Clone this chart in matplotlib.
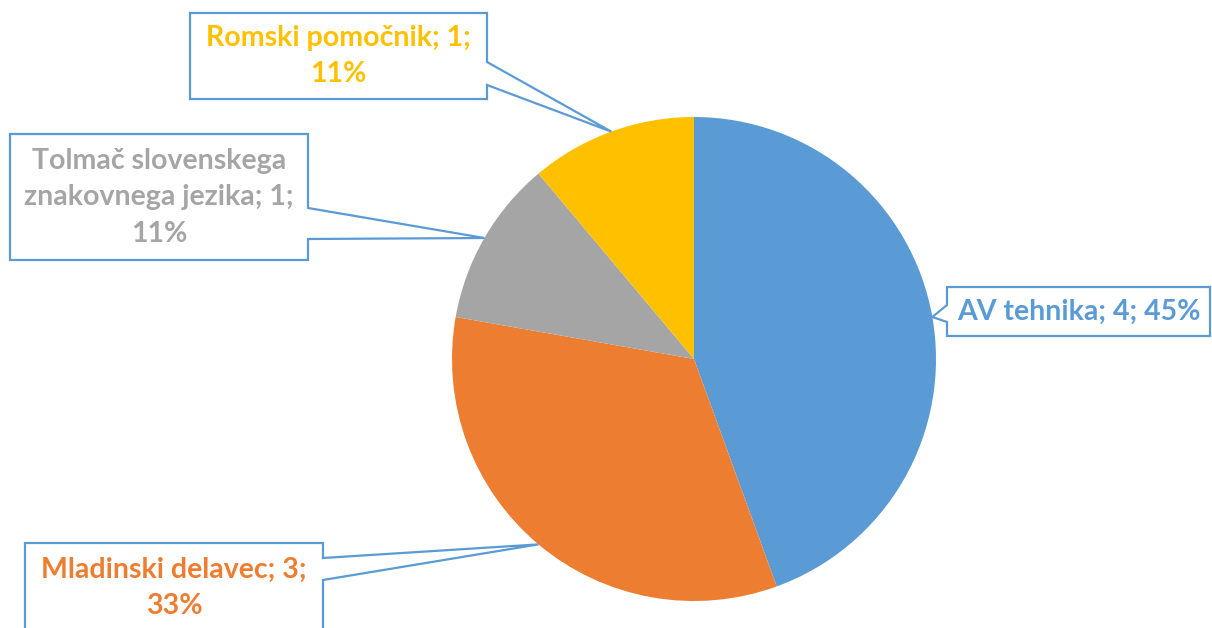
import numpy as np
import matplotlib.pyplot as plt
from matplotlib.patches import Polygon

# data
labels = ['AV tehnika', 'Mladinski delavec', 'Tolmač slovenskega znakovnega jezika', 'Romski pomočnik']
values = [4, 3, 1, 1]
pcts = ['45%', '33%', '11%', '11%']
colors = ['#5B9BD5', '#ED7D31', '#A5A5A5', '#FFC000']

# label texts as shown (with line breaks)
label_texts = [
    'AV tehnika; 4; 45%',
    'Mladinski delavec; 3;\n33%',
    'Tolmač slovenskega\nznakovnega jezika; 1;\n11%',
    'Romski pomočnik; 1;\n11%',
]

W, H = 1212, 628
fig = plt.figure(figsize=(W / 100, H / 100), dpi=100)

# pie axes (center 694,359 px, radius 242 px)
cx, cy, r = 694, 359, 242
ax = fig.add_axes([(cx - r) / W, (H - cy - r) / H, 2 * r / W, 2 * r / H])
wedges, _ = ax.pie(values, colors=colors, startangle=90, counterclock=False,
                   radius=1, wedgeprops=dict(linewidth=0))
ax.set_xlim(-1, 1)
ax.set_ylim(-1, 1)
ax.set_aspect('equal')
ax.axis('off')

# overlay in pixel coords for callouts
ov = fig.add_axes([0, 0, 1, 1], zorder=5)
ov.set_xlim(0, W)
ov.set_ylim(H, 0)
ov.axis('off')

# callout boxes: (x0, y0, x1, y1), pointer side, pointer y-range, text centre y
boxes = [
    ((947, 287, 1210, 336), 'left', (305, 322), 312),
    ((25, 543, 323, 660), 'right', (558, 580), 588),
    ((10, 134, 308, 260), 'right', (208, 239), 197),
    ((190, 13, 487, 99), 'right', (62, 85), 56),
]

for w, (box, side, (p0, p1), ty_txt), txt, col in zip(wedges, boxes, label_texts, colors):
    mid = np.deg2rad((w.theta1 + w.theta2) / 2)
    tx = cx + r * np.cos(mid)
    ty = cy - r * np.sin(mid)
    x0, y0, x1, y1 = box
    if side == 'right':
        pts = [(x0, y0), (x1, y0), (x1, p0), (tx, ty), (x1, p1), (x1, y1), (x0, y1)]
    else:
        pts = [(x0, y0), (x1, y0), (x1, y1), (x0, y1), (x0, p1), (tx, ty), (x0, p0)]
    ov.add_patch(Polygon(pts, closed=True, facecolor='white', edgecolor='#5B9BD5',
                         linewidth=1.6, joinstyle='miter', clip_on=False))
    ov.text((x0 + x1) / 2, ty_txt, txt, ha='center', va='center', color=col,
            fontsize=20.5, family='Lato', weight='bold', linespacing=1.5)

fig.savefig('out.png', dpi=100)
